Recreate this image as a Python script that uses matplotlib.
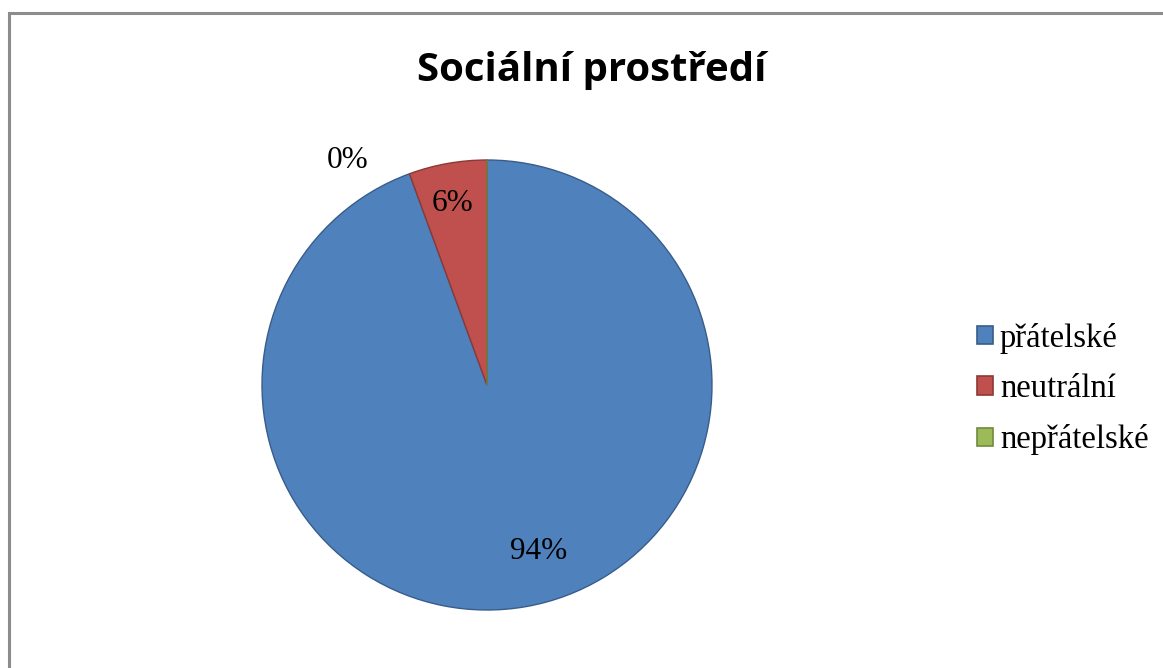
import numpy as np
import matplotlib
matplotlib.use("Agg")
import matplotlib.pyplot as plt
from matplotlib.patches import Rectangle

# data
categories = ["přátelské", "neutrální", "nepřátelské"]
values = [94.4, 5.6, 0.0]
pct_labels = ["94%", "6%", "0%"]
colors = ["#4F81BD", "#C0504D", "#9BBB59"]
edges = ["#385D8A", "#8C3836", "#71893F"]

fig = plt.figure(figsize=(11.63, 6.68), dpi=100)
W, H = 1163, 668

# outer chart frame (right/bottom edges are cut off in the original)
fig.patches.append(Rectangle((9 / W, -0.1), 1.2, (H - 13) / H + 0.1, transform=fig.transFigure,
                             fill=False, edgecolor="#8C8C8C", linewidth=2.2))

cx, cy, r = 487, 385, 225
ax = fig.add_axes([(cx - r) / W, (H - cy - r) / H, 2 * r / W, 2 * r / H])
wedges, _ = ax.pie(values, colors=colors, startangle=90, counterclock=False,
                   wedgeprops=dict(linewidth=1.0), radius=1.0)
for w, ec in zip(wedges, edges):
    w.set_edgecolor(ec)
ax.set_xlim(-1, 1)
ax.set_ylim(-1, 1)
ax.set_aspect("equal")
ax.axis("off")

serif = ["Liberation Serif", "DejaVu Serif"]

# percentage labels
dists = [0.75, 0.82, None]
shifts = [0.10, -0.01, 0]
for w, lab, d, s in zip(wedges, pct_labels, dists, shifts):
    if d is None:
        continue
    mid = np.deg2rad((w.theta1 + w.theta2) / 2)
    ax.text(d * np.cos(mid) + s, d * np.sin(mid), lab, ha="center", va="center",
            fontsize=22.5, family=serif)
ax.text(-0.62, 1.0, pct_labels[2], ha="center", va="center", fontsize=22.5, family=serif)

fig.text(592 / W, 1 - 70 / H, "Sociální prostředí", ha="center", va="center",
         fontsize=29, fontweight="bold", family=["Open Sans", "DejaVu Sans"])

handles = [Rectangle((0, 0), 1, 1, facecolor=c, edgecolor=e, linewidth=1.2)
           for c, e in zip(colors, edges)]
fig.legend(handles, categories, loc="center left", bbox_to_anchor=(977 / W, 1 - 389 / H),
           frameon=False, prop=dict(family=serif, size=23.5), handlelength=0.5,
           handleheight=0.5, handletextpad=0.2, labelspacing=0.62, borderpad=0,
           borderaxespad=0)

fig.savefig("out.png", dpi=100)
